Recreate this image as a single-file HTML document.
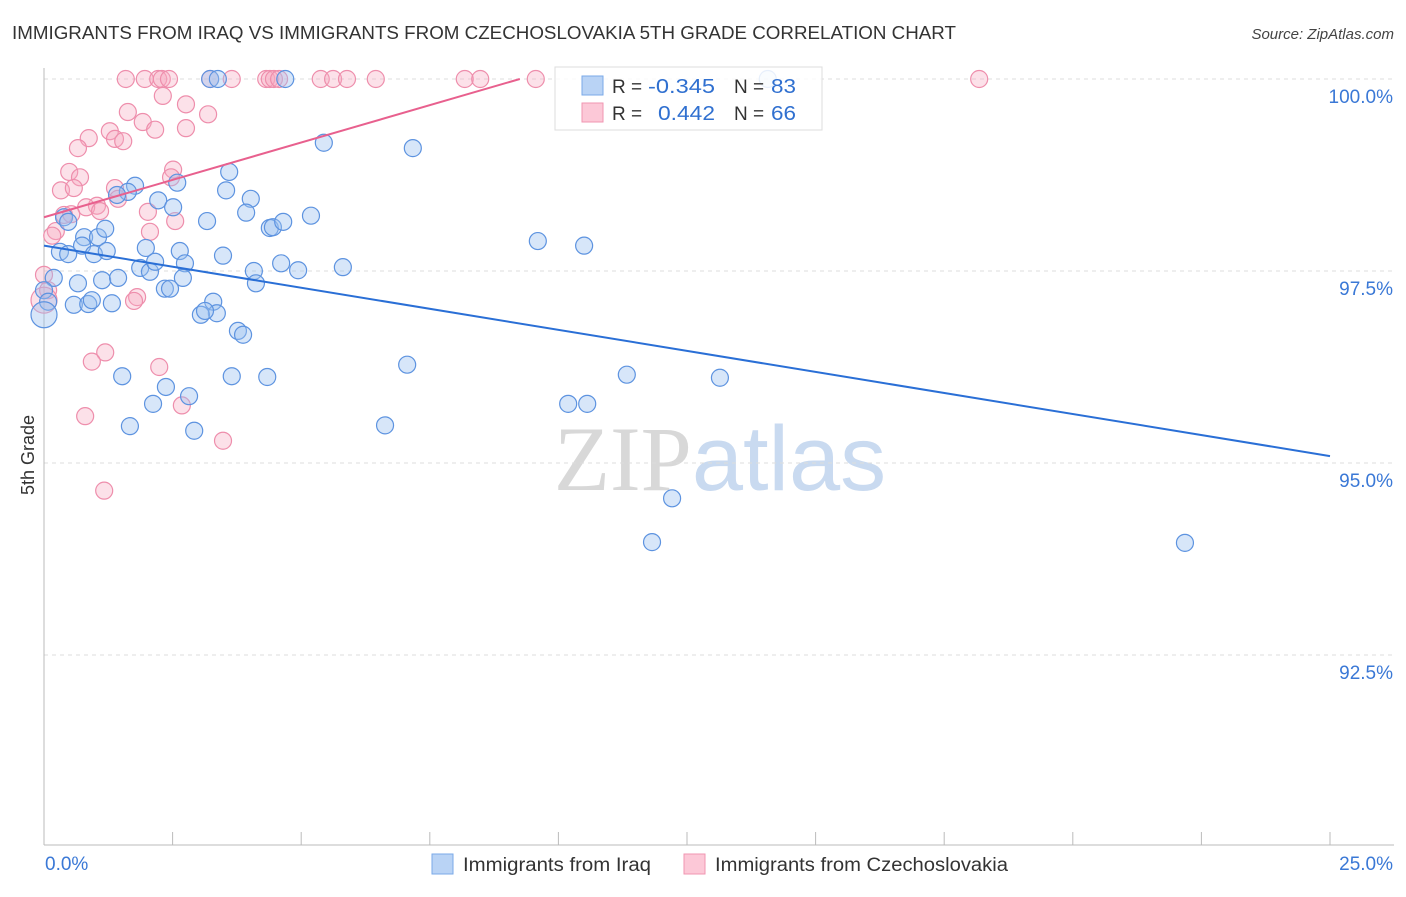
<!DOCTYPE html>
<html><head><meta charset="utf-8"><style>
body{margin:0;background:#fff;font-family:"Liberation Sans",sans-serif;}
svg text{font-family:"Liberation Sans",sans-serif;}
</style></head><body>
<svg id="chart" width="1406" height="892" xmlns="http://www.w3.org/2000/svg">
<text x="12" y="39" font-size="18" fill="#333" textLength="944" lengthAdjust="spacingAndGlyphs">IMMIGRANTS FROM IRAQ VS IMMIGRANTS FROM CZECHOSLOVAKIA 5TH GRADE CORRELATION CHART</text>
<text x="1394" y="39" font-size="15" fill="#444" text-anchor="end" font-style="italic">Source: ZipAtlas.com</text>
<text x="720" y="490" font-size="92" text-anchor="middle"><tspan fill="#d8d8d8" font-family="Liberation Serif">ZIP</tspan><tspan fill="#c9daf0">atlas</tspan></text>
<text transform="translate(34,455) rotate(-90)" font-size="18" fill="#333" text-anchor="middle">5th Grade</text>
<g id="grid"></g><g id="axes"></g><g id="pts"></g><g id="lines"></g>
<g>
<rect x="555" y="67" width="267" height="63" fill="#fff" fill-opacity="0.85" stroke="#ddd"/>
<rect x="582" y="76" width="21" height="19" fill="#b9d3f5" stroke="#7aaae8"/>
<rect x="582" y="103" width="21" height="19" fill="#fcc8d7" stroke="#f096b2"/>
<text x="612" y="93" font-size="19" fill="#333">R = </text>
<text x="648" y="93" font-size="20" fill="#3070d0" textLength="67" lengthAdjust="spacingAndGlyphs">-0.345</text>
<text x="734" y="93" font-size="19" fill="#333">N = </text>
<text x="771" y="93" font-size="20" fill="#3070d0" textLength="25" lengthAdjust="spacingAndGlyphs">83</text>
<text x="612" y="120" font-size="19" fill="#333">R = </text>
<text x="658" y="120" font-size="20" fill="#3070d0" textLength="57" lengthAdjust="spacingAndGlyphs">0.442</text>
<text x="734" y="120" font-size="19" fill="#333">N = </text>
<text x="771" y="120" font-size="20" fill="#3070d0" textLength="25" lengthAdjust="spacingAndGlyphs">66</text>
</g>
<g>
<rect x="432" y="854" width="21" height="20" fill="#b9d3f5" stroke="#7aaae8"/>
<text x="463" y="871" font-size="19" fill="#333" textLength="188" lengthAdjust="spacingAndGlyphs">Immigrants from Iraq</text>
<rect x="684" y="854" width="21" height="20" fill="#fcc8d7" stroke="#f096b2"/>
<text x="715" y="871" font-size="19" fill="#333" textLength="293" lengthAdjust="spacingAndGlyphs">Immigrants from Czechoslovakia</text>
</g>
</svg>
<script>
const yTicks=[100,97.5,95,92.5];
const yTickLabels=["100.0%","97.5%","95.0%","92.5%"];
const xLabels=["0.0%","25.0%"];
const iraqX=[3.23,3.38,4.69,14.07,1.77,1.63,1.42,2.22,2.51,3.60,3.54,4.02,2.59,3.93,3.17,4.39,4.45,4.65,5.19,5.44,7.17,9.60,10.50,0.39,0.47,0.78,1.05,1.19,0.31,0.47,0.74,0.97,1.22,1.98,2.64,3.48,1.87,2.06,2.16,2.74,2.70,4.08,4.12,4.61,4.94,5.81,0.19,0.66,1.13,1.44,2.35,2.45,0,0.08,0.58,0.86,0.93,1.32,3.29,3.36,3.05,3.13,3.77,3.87,1.52,2.37,2.12,2.82,3.65,4.34,7.06,11.33,13.14,1.67,2.92,6.63,10.19,10.56,12.21,11.82,22.18,0];
const iraqY=[100,100,100,100,98.61,98.53,98.49,98.42,98.33,98.79,98.55,98.44,98.65,98.26,98.15,98.06,98.07,98.14,98.22,99.17,99.10,97.89,97.83,98.20,98.14,97.94,97.94,98.05,97.75,97.72,97.83,97.72,97.76,97.80,97.76,97.70,97.54,97.49,97.62,97.60,97.41,97.50,97.34,97.60,97.51,97.55,97.41,97.34,97.38,97.41,97.27,97.27,97.25,97.10,97.06,97.07,97.12,97.08,97.10,96.95,96.93,96.98,96.72,96.67,96.13,95.99,95.77,95.87,96.13,96.12,96.28,96.15,96.11,95.48,95.42,95.49,95.77,95.77,94.54,93.97,93.96,96.93];
const czX=[1.59,1.96,2.22,2.29,2.43,3.23,3.65,4.32,4.39,4.47,4.57,5.38,5.62,5.89,6.45,8.18,8.48,9.56,18.18,2.31,2.76,1.63,3.19,1.92,2.16,2.76,0.87,1.28,1.38,1.54,0.66,0.49,0.70,0.33,0.58,2.51,2.47,1.38,1.44,1.03,0.82,1.09,2.02,0.39,0.53,2.55,2.06,0.23,0.16,0,0.08,1.81,1.75,1.19,0.93,2.24,2.68,0.80,3.48,1.17,0];
const czY=[100,100,100,100,100,100,100,100,100,100,100,100,100,100,100,100,100,100,100,99.78,99.67,99.57,99.54,99.44,99.34,99.36,99.23,99.32,99.22,99.19,99.10,98.79,98.72,98.55,98.58,98.82,98.72,98.58,98.44,98.35,98.33,98.28,98.27,98.23,98.24,98.15,98.01,98.02,97.96,97.45,97.25,97.16,97.11,96.44,96.32,96.25,95.75,95.61,95.29,94.64,97.12];
const iraqTrend=[[0,97.83],[25,95.09]];
const czTrend=[[0,98.2],[9.25,100]];
const ns="http://www.w3.org/2000/svg";
const X=v=>44+v*51.44, Y=v=>79+(100-v)*76.8;
function mk(t,a,p){const e=document.createElementNS(ns,t);for(const k in a)e.setAttribute(k,a[k]);document.getElementById(p).appendChild(e);return e;}
yTicks.forEach((t,i)=>{
 const g=mk('line',{x1:44,x2:1394,y1:Y(t),y2:Y(t),stroke:'#ddd','stroke-dasharray':'4,4'},'grid');
 
 
 const l=mk('text',{x:1393,y:Y(t)+24,'font-size':19,fill:'#3a78d6','text-anchor':'end'},'axes');l.textContent=yTickLabels[i];
 
 
});
const ax=mk('line',{x1:44,x2:44,y1:68,y2:845,stroke:'#bbb'},'axes');


const bx=mk('line',{x1:44,x2:1394,y1:845,y2:845,stroke:'#bbb'},'axes');


for(let i=0;i<=10;i++){const t=mk('line',{x1:X(i*2.5),x2:X(i*2.5),y1:832,y2:845,stroke:'#bbb'},'axes');
 
 }
[[0,'start'],[25,'end']].forEach((d,i)=>{const l=mk('text',{x:X(d[0])+(i?63:1),y:870,'font-size':19,fill:'#3a78d6','text-anchor':d[1]},'axes');l.textContent=xLabels[i];
 
 });
czX.forEach((v,i)=>{const c=mk('circle',{cx:X(v),cy:Y(czY[i]),r:i==czX.length-1?13:8.5,fill:'#f7a8c0','fill-opacity':0.35,stroke:'#ee8eac','stroke-width':1.2},'pts');
 
 });
iraqX.forEach((v,i)=>{const c=mk('circle',{cx:X(v),cy:Y(iraqY[i]),r:i==iraqX.length-1?13:8.5,fill:'#9cc0f0','fill-opacity':0.4,stroke:'#5d93e0','stroke-width':1.2},'pts');
 
 });
const l1=mk('line',{x1:X(iraqTrend[0][0]),y1:Y(iraqTrend[0][1]),x2:X(iraqTrend[1][0]),y2:Y(iraqTrend[1][1]),stroke:'#2a6fd6','stroke-width':2},'lines');


const l2=mk('line',{x1:X(czTrend[0][0]),y1:Y(czTrend[0][1]),x2:X(czTrend[1][0]),y2:Y(czTrend[1][1]),stroke:'#e8608e','stroke-width':2},'lines');


</script>
</body></html>
